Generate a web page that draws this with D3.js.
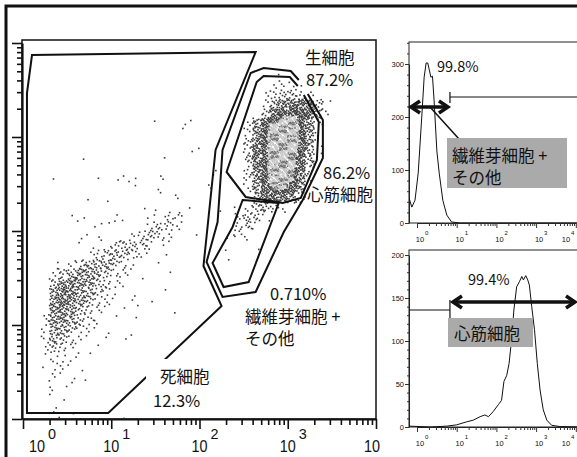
<!DOCTYPE html>
<html>
<head>
<meta charset="utf-8">
<script src="https://cdn.jsdelivr.net/npm/d3@7"></script>
<style>
  body { margin: 0; background: #fff; }
  svg { display: block; }
  text { font-family: "Noto Sans CJK JP", "Noto Sans", sans-serif; fill: #111; }
  .num { font-family: "Liberation Sans", Arial, sans-serif; }
</style>
</head>
<body>
<svg id="chart" width="577" height="457"></svg>
<script>
// scatter density: 0.1-decade cells, rows from 10^4 (top) down to 10^0,
// columns from 10^0 to 10^4, count per cell in base 36 (0-9, a-z). trailing zeros omitted
const scatterRows = [
  "", "", "",
  "00000000000000000000000000001",
  "000000000000000000000000000023310",
  "000000000000000000000000000258852",
  "0000000000000000000000000003ckooi81",
  "0000000000000000000000000008ouuuqc2",
  "00000000000000100011000002euwyyug3",
  "00000000000000000010000004iuzzzug2",
  "00000000000000000000000007kuzzzue2",
  "00000000000000000002000006muzzzsc1",
  "00000010000000001000000007muzzzqa",
  "00000000000000000000010005kuzzyo6",
  "00010000101120020000010004iuyywk3",
  "00000000000010020000020003eswwqc",
  "000000010100000002000000008mqme4",
  "000000000000010100100011038a62",
  "00000120002100205400000048620",
  "00000000210000467300000056200",
  "00000011200036852001000232",
  "000000110257863110000000001",
  "000000015798521010000010",
  "0001036abb7410010000000100",
  "00037beeb84310001",
  "0008gjge853101",
  "000emkeb641010001",
  "000gmje8431011100",
  "001gje85310100000100",
  "003ggb7420101",
  "003ec74211",
  "003b842101011",
  "0027521010",
  "0013211100",
  "0012211",
  "00121101",
  "0002110",
  "00011",
  "0001",
  "00011100000100"
].map(s => s.padEnd(40, "0"));

// gates, in decades [log10 x, log10 y]
const deadGate = [[0.045,0.064],[0.966,0.064],[2.25,1.202],[2.045,1.628],[2.182,2.862],
  [2.636,3.904],[0.102,3.872],[0.045,3.468]];
const liveGate = [[3.125,3.606],[3.034,3.702],[2.727,3.734],[2.58,3.681],[2.261,2.862],
  [2.205,2.096],[2.08,1.67],[2.261,1.298],[2.636,1.351],[2.955,1.989],[3.17,2.33],
  [3.398,2.777],[3.398,3.181],[3.227,3.457]];
const cardioGate = [[3.114,3.543],[3.023,3.638],[2.727,3.649],[2.648,3.585],[2.307,2.628],
  [2.523,2.362],[2.943,2.298],[3.148,2.351],[3.33,2.755],[3.352,3.16],[3.182,3.447]];
const fibroGate = [[2.489,2.33],[2.898,2.298],[2.557,1.457],[2.273,1.404],[2.148,1.66],[2.375,2.043]];

const decades = [0, 1, 2, 3, 4];

// histogram traces (x in decades, y = count)
const fibroLog   = [-0.2,-0.13,-0.05,0.03,0.12,0.18,0.23,0.27,0.31,0.35,0.39,0.43,0.5,0.56,0.65,0.75,0.87,1.08,4.3];
const fibroCount = [47,30,43,94,200,275,302,302,289,275,277,232,136,94,43,15,2,0,0];
const cardioLog   = [-0.2,0.35,0.75,1.0,1.25,1.42,1.59,1.71,1.8,1.92,2.05,2.13,2.19,2.26,2.32,2.39,2.44,
  2.51,2.58,2.64,2.68,2.74,2.79,2.83,2.89,2.96,3.03,3.1,3.18,3.27,3.39,3.6,4.3];
const cardioCount = [1,0,1,2.5,6,8,12,14,12,18,26,31,53,60,74,105,136,163,169,175,171,176,171,165,
  140,113,74,43,20,8,2,0.5,0];
const histGate = 0.83;   // marker boundary, decades

const svg = d3.select("#chart");

// outer frame
svg.append("path").attr("d", "M6,457V6H577").attr("fill", "none").attr("stroke", "#111").attr("stroke-width", 3);

// ================= main dot plot =================
const mx = d3.scaleLog().domain([1, 1e4]).range([23, 376]);
const my = d3.scaleLog().domain([1, 1e4]).range([419, 43]);
const dx = d => mx(Math.pow(10, d));
const dy = d => my(Math.pow(10, d));
const isMajor = v => Math.abs(Math.log10(v) - Math.round(Math.log10(v))) < 1e-6;

svg.append("rect").attr("x", 22).attr("y", 40).attr("width", 354).attr("height", 379)
  .attr("fill", "none").attr("stroke", "#111").attr("stroke-width", 1.5);

const counts = scatterRows.map(s => Array.from(s, ch => parseInt(ch, 36)));
const cnt = (r, c) => (r < 0 || r > 39 || c < 0 || c > 39) ? 0 : counts[r][c];
function halton(k, b) { let f = 1, v = 0; while (k > 0) { f /= b; v += f * (k % b); k = Math.floor(k / b); } return v; }
// smoothed density at a point (cell units, row axis pointing down)
function density(col, row) {
  const fx = col - 0.5, fy = row - 0.5, c0 = Math.floor(fx), r0 = Math.floor(fy), tx = fx - c0, ty = fy - r0;
  return cnt(r0, c0) * (1 - tx) * (1 - ty) + cnt(r0, c0 + 1) * tx * (1 - ty)
       + cnt(r0 + 1, c0) * (1 - tx) * ty + cnt(r0 + 1, c0 + 1) * tx * ty;
}

// spread each cell's count over the cell (rotated Halton points, no randomness)
const dots = [];
counts.forEach((row, r) => {
  row.forEach((n, c) => {
    const cell = r * 40 + c;
    const h1 = (cell * 0.6180339887) % 1, h2 = (cell * 0.4142135624) % 1;
    for (let i = 0; i < n; i++) {
      const u = (halton(i + 1, 2) + h1) % 1, v = (halton(i + 1, 3) + h2) % 1;
      dots.push({ x: (c + u) / 10, y: (39 - r + v) / 10, d: density(c + u, r + 1 - v), i: i });
    }
  });
});
svg.append("g").selectAll("rect").data(dots).join("rect")
  .attr("x", d => dx(d.x) - 0.8).attr("y", d => dy(d.y) - 0.8)
  .attr("width", 1.6).attr("height", 1.6)
  .attr("fill", d => d.d >= 31 ? (d.i % 3 === 0 ? "#6e6e6e" : "#c6c6c6") : "#3a3a3a");

// gates
const gateLine = d3.line().x(d => dx(d[0])).y(d => dy(d[1]));
const gates = svg.append("g").attr("fill", "none").attr("stroke", "#111").attr("stroke-width", 2)
  .attr("stroke-linejoin", "miter");
gates.append("path").attr("d", gateLine(deadGate) + "Z");
gates.append("path").attr("d", gateLine(liveGate));
gates.append("path").attr("d", gateLine(cardioGate));
gates.append("path").attr("d", gateLine(fibroGate) + "Z");

// axes
const gx = svg.append("g").attr("transform", "translate(0,419)")
  .call(d3.axisBottom(mx).tickValues(mx.ticks()).tickFormat("").tickSizeOuter(0));
gx.selectAll(".tick line").attr("y2", d => isMajor(d) ? 10 : 6).attr("stroke", "#111").attr("stroke-width", 1.6);
gx.select(".domain").attr("stroke", "#111").attr("stroke-width", 2.2);

const gy = svg.append("g").attr("transform", "translate(22,0)")
  .call(d3.axisLeft(my).tickValues(my.ticks()).tickFormat("").tickSizeOuter(0));
gy.selectAll(".tick line").attr("x2", d => isMajor(d) ? -10 : -5).attr("stroke", "#111").attr("stroke-width", 1.6);
gy.select(".domain").attr("stroke", "#111").attr("stroke-width", 2.2);

decades.forEach(e => {
  const tx = mx(Math.pow(10, e)) + (e === 0 ? 14 : (e === 4 ? -4 : 0));
  svg.append("text").attr("class", "num").attr("x", tx).attr("y", 452).attr("text-anchor", "middle")
    .attr("font-size", 17).attr("textLength", 16).attr("lengthAdjust", "spacingAndGlyphs").text("10");
  if (e < 4) {
    svg.append("text").attr("class", "num").attr("x", tx + 11).attr("y", 439)
      .attr("font-size", 15).attr("textLength", 8).attr("lengthAdjust", "spacingAndGlyphs").text(e);
  }
});

// gate labels
svg.append("rect").attr("x", 146).attr("y", 359).attr("width", 68).attr("height", 28).attr("fill", "#fff");
const labels = [
  ["生細胞", 305, 64], ["87.2%", 306, 86],
  ["86.2%", 323, 179], ["心筋細胞", 307, 201],
  ["0.710%", 270, 300], ["繊維芽細胞 +", 245, 323], ["その他", 245, 345],
  ["死細胞", 160, 383], ["12.3%", 153, 407]
];
svg.append("g").selectAll("text").data(labels).join("text")
  .attr("x", d => d[1]).attr("y", d => d[2]).attr("font-size", 16.5).text(d => d[0]);

// ================= histograms =================
const hx = d3.scaleLog().domain([1, 1e4]).range([417, 575.8]);
const hLeft = 409, hRight = 580;

function histogram(top, base, yScale, ticks, minor, xs, ys, id) {
  svg.append("clipPath").attr("id", id).append("rect")
    .attr("x", hLeft).attr("y", top).attr("width", hRight - hLeft).attr("height", base - top);
  svg.append("rect").attr("x", hLeft).attr("y", top).attr("width", hRight - hLeft).attr("height", base - top)
    .attr("fill", "none").attr("stroke", "#222").attr("stroke-width", 1);

  const ay = svg.append("g").attr("transform", `translate(${hLeft},0)`)
    .call(d3.axisLeft(yScale).tickValues(minor).tickSizeOuter(0)
      .tickFormat(v => ticks.includes(v) ? v : ""));
  ay.selectAll(".tick line").attr("x2", d => ticks.includes(d) ? -4 : -2).attr("stroke", "#333");
  ay.selectAll(".tick text").attr("class", "num").attr("font-size", 7.5).attr("x", -5).attr("fill", "#222");
  ay.select(".domain").attr("stroke", "#222");

  const xt = hx.ticks().filter(v => hx(v) >= hLeft && hx(v) <= 577);
  const ax = svg.append("g").attr("transform", `translate(0,${base})`)
    .call(d3.axisBottom(hx).tickValues(xt).tickFormat("").tickSizeOuter(0));
  ax.selectAll(".tick line").attr("y2", d => isMajor(d) ? 5 : 3).attr("stroke", "#333");
  ax.select(".domain").attr("stroke", "#222");
  decades.forEach(e => {
    // the last label sits against the page edge
    const tx = Math.min(hx(Math.pow(10, e)) + 3, 566);
    svg.append("text").attr("class", "num").attr("x", tx).attr("y", base + 19).attr("text-anchor", "middle")
      .attr("font-size", 7.5).attr("fill", "#222").text("10");
    svg.append("text").attr("class", "num").attr("x", tx + 5).attr("y", base + 12)
      .attr("font-size", 6).attr("fill", "#222").text(e);
  });

  const trace = d3.line().x((d, i) => hx(Math.pow(10, xs[i]))).y((d, i) => yScale(ys[i]));
  svg.append("path").attr("clip-path", `url(#${id})`).attr("d", trace(xs))
    .attr("fill", "none").attr("stroke", "#111").attr("stroke-width", 1);
}

const hyA = d3.scaleLinear().domain([0, 300]).range([223, 64]);
histogram(42, 223, hyA, [0, 100, 200, 300], d3.range(0, 341, 20), fibroLog, fibroCount, "clipA");
const hyB = d3.scaleLinear().domain([0, 200]).range([427, 255]);
histogram(250, 427, hyB, [0, 50, 100, 150, 200], d3.range(0, 201, 10), cardioLog, cardioCount, "clipB");

function arrow(x1, x2, y) {
  const g = svg.append("g").attr("fill", "none").attr("stroke", "#111").attr("stroke-width", 3.5)
    .attr("stroke-linejoin", "miter");
  g.append("path").attr("d", `M${x1 + 2},${y}H${x2 - 2}`);
  g.append("path").attr("d", `M${x1 + 11},${y - 6}L${x1 + 2},${y}L${x1 + 11},${y + 6}`);
  g.append("path").attr("d", `M${x2 - 11},${y - 6}L${x2 - 2},${y}L${x2 - 11},${y + 6}`);
}
const gxPix = hx(Math.pow(10, histGate));

// top: fibroblast marker
svg.append("path").attr("d", `M${gxPix},92V103M${gxPix},97H577`).attr("stroke", "#111").attr("stroke-width", 1.2).attr("fill", "none");
arrow(hLeft, gxPix, 107);
svg.append("path").attr("d", "M430,107L459,139").attr("stroke", "#111").attr("stroke-width", 1.5);
svg.append("text").attr("x", 437).attr("y", 72).attr("font-size", 14.5).text("99.8%");
svg.append("rect").attr("x", 447).attr("y", 138).attr("width", 120).attr("height", 50).attr("fill", "#aaaaaa");
svg.append("text").attr("x", 452).attr("y", 162).attr("font-size", 16.5).text("繊維芽細胞 +");
svg.append("text").attr("x", 452).attr("y", 184).attr("font-size", 16.5).text("その他");

// bottom: cardiomyocyte marker
svg.append("path").attr("d", `M${gxPix},300V319M${hLeft},310H${gxPix}`).attr("stroke", "#111").attr("stroke-width", 1.2).attr("fill", "none");
arrow(gxPix + 1, 577, 302);
svg.append("text").attr("x", 468).attr("y", 285).attr("font-size", 14.5).text("99.4%");
svg.append("rect").attr("x", 448).attr("y", 318).attr("width", 85).attr("height", 29).attr("fill", "#aaaaaa");
svg.append("text").attr("x", 454).attr("y", 340).attr("font-size", 16.5).text("心筋細胞");
</script>
</body>
</html>
